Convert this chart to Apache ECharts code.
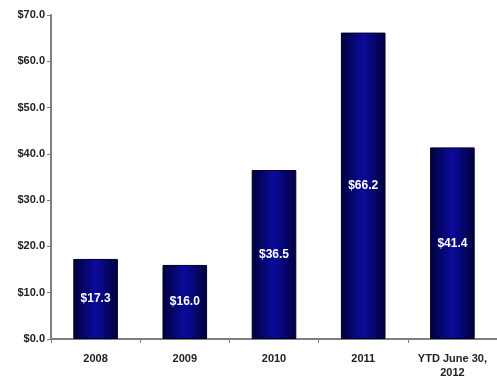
<!DOCTYPE html>
<html>
<head>
<meta charset="utf-8">
<script src="https://cdn.jsdelivr.net/npm/echarts@6/dist/echarts.min.js"></script>
<style>
  html, body { margin: 0; padding: 0; background: #ffffff; }
  #chart { width: 497px; height: 387px; }
</style>
</head>
<body>
<div id="chart"></div>
<script>
// Annual totals, in millions of dollars
const categories = ['2008', '2009', '2010', '2011', 'YTD June 30,\n2012'];
const amounts = [17.3, 16.0, 36.5, 66.2, 41.4];

const chart = echarts.init(document.getElementById('chart'), null, { renderer: 'canvas' });

const barFill = new echarts.graphic.LinearGradient(0, 0, 1, 0, [
  { offset: 0, color: '#00003c' },
  { offset: 0.5, color: '#0b0b9c' },
  { offset: 1, color: '#00003c' }
]);

chart.setOption({
  animation: false,
  backgroundColor: '#ffffff',
  grid: { left: 51, right: -6, top: 15, bottom: 48 },
  xAxis: {
    type: 'category',
    data: categories,
    axisLine: { lineStyle: { color: '#7f7f7f', width: 2 } },
    axisTick: { show: true, length: 4, lineStyle: { color: '#7f7f7f' } },
    axisLabel: {
      interval: 0,
      color: '#222222',
      fontFamily: 'Liberation Sans, Arial, sans-serif',
      fontWeight: 'bold',
      fontSize: 11,
      margin: 13,
      lineHeight: 14
    }
  },
  yAxis: {
    type: 'value',
    min: 0,
    max: 70,
    interval: 10,
    axisLine: { show: true, lineStyle: { color: '#7f7f7f', width: 2 } },
    axisTick: { show: true, length: 4, lineStyle: { color: '#7f7f7f' } },
    splitLine: { show: false },
    axisLabel: {
      color: '#222222',
      fontFamily: 'Liberation Sans, Arial, sans-serif',
      fontWeight: 'bold',
      fontSize: 11,
      margin: 6,
      formatter: v => '$' + v.toFixed(1)
    }
  },
  series: [{
    type: 'bar',
    data: amounts,
    barWidth: '50%',
    itemStyle: { color: barFill, borderColor: '#000022', borderWidth: 1 },
    label: {
      show: true,
      position: 'inside',
      color: '#ffffff',
      fontFamily: 'Liberation Sans, Arial, sans-serif',
      fontWeight: 'bold',
      fontSize: 12,
      formatter: p => '$' + p.value.toFixed(1)
    }
  }]
});
</script>
</body>
</html>
